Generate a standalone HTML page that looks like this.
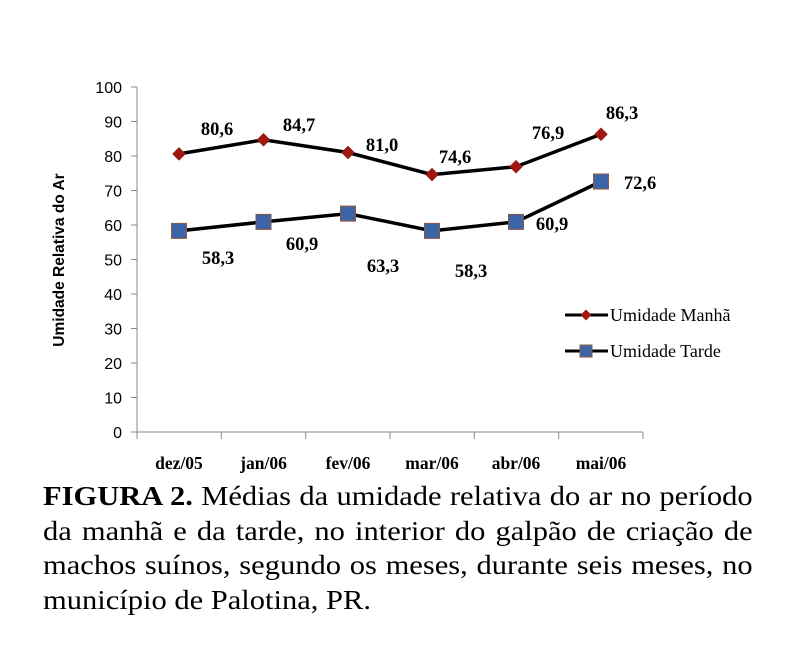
<!DOCTYPE html><html><head><meta charset="utf-8"><style>
body{margin:0;background:#fff;width:790px;height:651px;overflow:hidden;position:relative}
.cap{position:absolute;left:43px;top:479px;width:628px;font:27px/34.5px "Liberation Serif",serif;color:#000;transform:scaleX(1.13);transform-origin:0 0}
.cap div{text-align:justify;text-align-last:justify;white-space:nowrap}
.cap div.l{text-align-last:left}
</style></head><body>
<svg width="790" height="475" style="position:absolute;left:0;top:0" font-family="Liberation Serif">
<g stroke="#888" stroke-width="1" fill="none">
<line x1="137" y1="87" x2="137" y2="432"/><line x1="137" y1="432" x2="643" y2="432"/>
<path d="M131 87H137M131 121.5H137M131 156H137M131 190.5H137M131 225H137M131 259.5H137M131 294H137M131 328.5H137M131 363H137M131 397.5H137M131 432H137"/>
<path d="M137 432V439M221.3 432V439M305.7 432V439M390 432V439M474.3 432V439M558.7 432V439M643 432V439"/>
</g>
<g font-family="Liberation Sans" font-size="16" text-anchor="end" fill="#000">
<text x="122" y="93">100</text><text x="122" y="127.5">90</text><text x="122" y="162">80</text><text x="122" y="196.5">70</text><text x="122" y="231">60</text><text x="122" y="265.5">50</text><text x="122" y="300">40</text><text x="122" y="334.5">30</text><text x="122" y="369">20</text><text x="122" y="403.5">10</text><text x="122" y="438">0</text>
</g>
<text transform="translate(64,260) rotate(-90)" font-family="Liberation Sans" font-size="15.5" font-weight="bold" text-anchor="middle">Umidade Relativa do Ar</text>
<g font-size="17.5" font-weight="bold" text-anchor="middle">
<text x="179" y="469">dez/05</text><text x="263.5" y="469">jan/06</text><text x="348" y="469">fev/06</text><text x="432" y="469">mar/06</text><text x="516" y="469">abr/06</text><text x="601" y="469">mai/06</text>
</g>
<polyline points="179,153.9 263.5,139.8 348,152.5 432,174.6 516,166.7 601,134.3" fill="none" stroke="#000" stroke-width="3.5"/>
<polyline points="179,230.9 263.5,221.9 348,213.6 432,230.9 516,221.9 601,181.5" fill="none" stroke="#000" stroke-width="3.5"/>
<g fill="#a0170f" stroke="#7a1010" stroke-width="0.5">
<path d="M179 147.4l6.5 6.5-6.5 6.5-6.5-6.5z"/><path d="M263.5 133.3l6.5 6.5-6.5 6.5-6.5-6.5z"/><path d="M348 146l6.5 6.5-6.5 6.5-6.5-6.5z"/><path d="M432 168.1l6.5 6.5-6.5 6.5-6.5-6.5z"/><path d="M516 160.2l6.5 6.5-6.5 6.5-6.5-6.5z"/><path d="M601 127.8l6.5 6.5-6.5 6.5-6.5-6.5z"/>
</g>
<g fill="#3d64a8" stroke="#8a5a40" stroke-width="1">
<rect x="171.5" y="223.4" width="15" height="15"/><rect x="256" y="214.4" width="15" height="15"/><rect x="340.5" y="206.1" width="15" height="15"/><rect x="424.5" y="223.4" width="15" height="15"/><rect x="508.5" y="214.4" width="15" height="15"/><rect x="593.5" y="174" width="15" height="15"/>
</g>
<g font-size="18.5" font-weight="bold" text-anchor="middle">
<text x="217" y="135">80,6</text><text x="299" y="131">84,7</text><text x="382" y="151">81,0</text><text x="455" y="163">74,6</text><text x="548" y="139">76,9</text><text x="622" y="119">86,3</text>
<text x="218" y="264">58,3</text><text x="302" y="250">60,9</text><text x="383" y="272">63,3</text><text x="471" y="277">58,3</text><text x="552" y="230">60,9</text><text x="640" y="189">72,6</text>
</g>
<line x1="565" y1="315" x2="608" y2="315" stroke="#000" stroke-width="3"/>
<path d="M586 309.5l5.5 5.5-5.5 5.5-5.5-5.5z" fill="#a0170f"/>
<line x1="565" y1="351" x2="608" y2="351" stroke="#000" stroke-width="3"/>
<rect x="580" y="345" width="12" height="12" fill="#3d64a8" stroke="#8a5a40"/>
<text x="610" y="321" font-size="18">Umidade Manhã</text>
<text x="610" y="357" font-size="18">Umidade Tarde</text>
</svg>
<div class="cap">
<div><b>FIGURA 2.</b> Médias da umidade relativa do ar no período</div>
<div>da manhã e da tarde, no interior do galpão de criação de</div>
<div>machos suínos, segundo os meses, durante seis meses, no</div>
<div class="l">município de Palotina, PR.</div>
</div>
</body></html>
